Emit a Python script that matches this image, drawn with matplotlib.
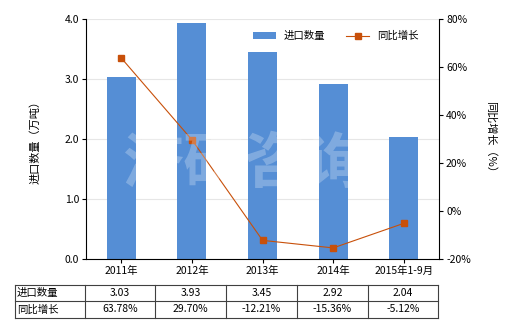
import matplotlib
matplotlib.use("Agg")
import matplotlib.pyplot as plt
import numpy as np

plt.rcParams['font.family'] = ['Noto Sans CJK SC', 'DejaVu Sans']

categories = ["2011年", "2012年", "2013年", "2014年", "2015年1-9月"]
qty = [3.03, 3.93, 3.45, 2.92, 2.04]
growth = [63.78, 29.70, -12.21, -15.36, -5.12]
qty_labels = ["3.03", "3.93", "3.45", "2.92", "2.04"]
growth_labels = ["63.78%", "29.70%", "-12.21%", "-15.36%", "-5.12%"]

bar_color = "#558ED5"
line_color = "#C8500A"
fs = 7.5

fig = plt.figure(figsize=(5.2, 3.3), dpi=100)
ax = fig.add_axes([0.1654, 0.215, 0.679, 0.727])
x = np.arange(len(categories))
ax.bar(x, qty, width=0.41, color=bar_color, label="进口数量", zorder=2)
ax.set_xlim(-0.5, len(categories) - 0.5)
ax.set_ylim(0, 4)
ax.set_yticks([0, 1, 2, 3, 4])
ax.set_yticklabels(["0.0", "1.0", "2.0", "3.0", "4.0"], fontsize=fs)
ax.set_xticks(x)
ax.set_xticklabels(categories, fontsize=fs)
ax.grid(axis="y", color="#e6e6e6", linewidth=0.8, zorder=0)
ax.set_ylabel("进口数量（万吨）", fontsize=fs + 0.5)
ax.yaxis.set_label_coords(-0.13, 0.5)
for s in ["top", "right"]:
    ax.spines[s].set_visible(False)
ax.tick_params(axis="both", length=3, width=0.8, pad=2)

ax2 = ax.twinx()
ax2.plot(x, growth, color=line_color, linewidth=0.8, marker="s", markersize=4.5,
         label="同比增长", zorder=3)
ax2.set_ylim(-20, 80)
ax2.set_yticks([-20, 0, 20, 40, 60, 80])
ax2.set_yticklabels(["-20%", "0%", "20%", "40%", "60%", "80%"], fontsize=fs)
ax2.set_ylabel("同比增长（%）", fontsize=fs + 0.5, rotation=270, labelpad=18)
for s in ["top", "left", "bottom"]:
    ax2.spines[s].set_visible(False)
ax2.tick_params(axis="y", length=3, width=0.8, pad=2)

h1, l1 = ax.get_legend_handles_labels()
h2, l2 = ax2.get_legend_handles_labels()
ax2.legend(h1 + h2, l1 + l2, loc="upper right", bbox_to_anchor=(0.97, 0.99), ncol=2,
           frameon=False, fontsize=fs, handlelength=2.2, columnspacing=2.0)

# watermark
fig.text(0.47, 0.50, "济研咨询", fontsize=44, color="white", alpha=0.25,
         ha="center", va="center", fontweight="bold", zorder=10)

# table
W, H = 520.0, 330.0
cols = [15, 85, 155, 226, 297, 368, 438]
rows = [285, 301, 318]
for yy in rows:
    fig.add_artist(plt.Line2D([cols[0] / W, cols[-1] / W], [1 - yy / H, 1 - yy / H],
                              color="#404040", linewidth=0.8))
for xx in cols:
    fig.add_artist(plt.Line2D([xx / W, xx / W], [1 - rows[0] / H, 1 - rows[-1] / H],
                              color="#404040", linewidth=0.8))
for r, (name, vals) in enumerate([("进口数量", qty_labels), ("同比增长", growth_labels)]):
    yc = 1 - (rows[r] + rows[r + 1]) / 2 / H
    fig.text((cols[0] + 2) / W, yc, name, fontsize=fs, ha="left", va="center")
    for i, v in enumerate(vals):
        xc = (cols[i + 1] + cols[i + 2]) / 2 / W
        fig.text(xc, yc, v, fontsize=fs, ha="center", va="center")

plt.savefig("out.png", dpi=100)
